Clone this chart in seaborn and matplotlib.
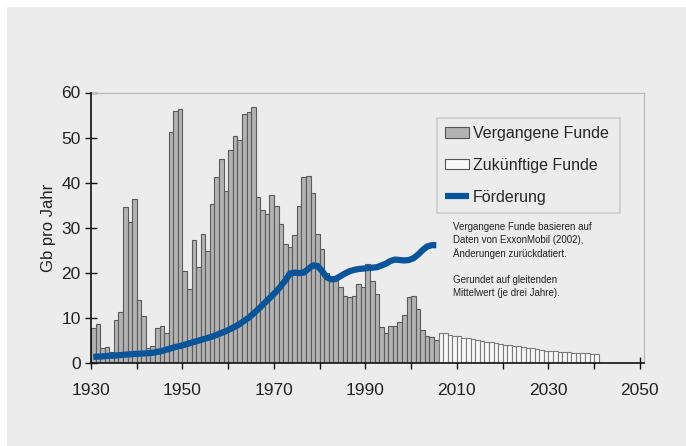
import numpy as np
import pandas as pd
import matplotlib.pyplot as plt
from matplotlib.patches import Rectangle, Patch
from matplotlib.lines import Line2D
from matplotlib.ticker import FixedLocator
import seaborn as sns

# Past discoveries (Gb per year), 1930-2005
past_years = list(range(1930, 2006))
past_finds = [7.6, 8.5, 3.2, 3.4, 2.4, 9.5, 11.2, 34.6, 31.3, 36.3,
              14.0, 10.3, 3.2, 3.6, 7.6, 8.1, 6.5, 51.2, 55.9, 56.4,
              20.4, 16.3, 27.3, 21.3, 28.5, 24.9, 35.2, 41.2, 45.2, 38.1,
              47.2, 50.3, 49.4, 55.3, 55.6, 56.7, 36.9, 33.9, 33.0, 37.2,
              34.9, 30.7, 26.3, 25.6, 28.3, 34.8, 41.2, 41.5, 37.6, 28.5,
              25.2, 19.9, 18.5, 19.3, 16.9, 14.8, 14.7, 14.8, 17.4, 16.9,
              21.9, 18.1, 15.2, 8.0, 6.7, 8.2, 8.2, 9.0, 10.7, 14.7,
              14.9, 11.9, 7.3, 6.0, 5.6, 5.0]

# Future discoveries (Gb per year), 2006-2040
future_years = list(range(2006, 2041))
future_finds = [6.7, 6.5, 6.1, 5.9, 5.9, 5.5, 5.4, 5.2, 5.0, 4.9,
                4.7, 4.5, 4.3, 4.1, 4.0, 3.9, 3.7, 3.6, 3.4, 3.3,
                3.2, 3.0, 2.9, 2.7, 2.7, 2.6, 2.4, 2.3, 2.3, 2.2,
                2.1, 2.1, 2.1, 2.0, 1.9]

# Production (Gb per year), 1930-2005
prod_years = list(range(1930, 2006))
production = [1.3, 1.35, 1.4, 1.5, 1.55, 1.6, 1.7, 1.8, 1.85, 1.95,
              2.0, 2.05, 2.1, 2.2, 2.4, 2.6, 2.9, 3.2, 3.5, 3.7,
              4.0, 4.3, 4.6, 4.9, 5.2, 5.5, 5.8, 6.2, 6.6, 7.0,
              7.5, 8.0, 8.6, 9.3, 10.0, 10.9, 11.8, 12.8, 13.8, 14.8,
              15.8, 17.0, 18.3, 19.8, 20.0, 19.9, 20.0, 20.8, 21.6, 21.5,
              20.4, 19.0, 18.5, 18.6, 19.2, 19.8, 20.3, 20.6, 20.8, 20.9,
              21.0, 21.1, 21.2, 21.6, 22.0, 22.6, 22.9, 22.8, 22.7, 22.8,
              23.2, 24.0, 25.0, 25.8, 26.1, 26.1]

x_ticks = [1930, 1950, 1970, 1990, 2010, 2030, 2050]
x_minor = [1940, 1960, 1980, 2000, 2020, 2040]
y_ticks = [0, 10, 20, 30, 40, 50, 60]

past_df = pd.DataFrame({"Jahr": np.array(past_years) + 0.5, "Funde": past_finds})
future_df = pd.DataFrame({"Jahr": np.array(future_years) + 0.5, "Funde": future_finds})
prod_df = pd.DataFrame({"Jahr": np.array(prod_years) + 0.5, "Foerderung": production})

BG = "#ececec"
BLUE = "#06559a"

sns.set_style("ticks")
plt.rcParams['font.family'] = ['Liberation Sans', 'DejaVu Sans']

fig = plt.figure(figsize=(6.86, 4.46), dpi=100)
fig.patch.set_facecolor("white")
fig.patches.append(Rectangle((7 / 686, 0), 1, 1 - 7 / 446, transform=fig.transFigure,
                             facecolor=BG, edgecolor="none", zorder=-10))
ax = fig.add_axes([91 / 686, (446 - 362.7) / 446, 553 / 686, 270.2 / 446])
ax.set_facecolor(BG)

sns.barplot(data=past_df, x="Jahr", y="Funde", native_scale=True, width=1,
            color="#b2b2b2", edgecolor="#5a5a5a", linewidth=0.8, saturation=1,
            errorbar=None, ax=ax, zorder=2)
sns.barplot(data=future_df, x="Jahr", y="Funde", native_scale=True, width=1,
            color="#f8f8f8", edgecolor="#7a7a7a", linewidth=0.8, saturation=1,
            errorbar=None, ax=ax, zorder=2)
sns.lineplot(data=prod_df, x="Jahr", y="Foerderung", color=BLUE, linewidth=4.5,
             solid_capstyle="butt", ax=ax, zorder=3)

ax.set_xlim(1930, 2050.9)
ax.set_ylim(0, 60)
ax.xaxis.set_major_locator(FixedLocator(x_ticks))
ax.set_xticklabels([str(t) for t in x_ticks])
ax.xaxis.set_minor_locator(FixedLocator(x_minor))
ax.yaxis.set_major_locator(FixedLocator(y_ticks))
ax.set_yticklabels([str(t) for t in y_ticks])
ax.tick_params(axis="both", which="both", direction="inout", length=9, width=1,
               color="#111111", labelsize=12.5, labelcolor="#222222")
ax.tick_params(axis="x", which="both", pad=10)
ax.tick_params(axis="y", pad=3)

for s in ["top", "right"]:
    ax.spines[s].set_color("#bdbdbd")
    ax.spines[s].set_linewidth(1)
for s in ["left", "bottom"]:
    ax.spines[s].set_color("#111111")
    ax.spines[s].set_linewidth(1.2)
    ax.spines[s].set_zorder(4)

ax.set_xlabel("")
ax.set_ylabel("Gb pro Jahr", fontsize=12, color="#222222", labelpad=4)

handles = [Patch(facecolor="#b2b2b2", edgecolor="#555555", linewidth=0.8),
           Patch(facecolor="#f8f8f8", edgecolor="#555555", linewidth=0.8),
           Line2D([], [], color=BLUE, linewidth=4.5, solid_capstyle="butt")]
labels = ["Vergangene Funde", "Zukünftige Funde", "Förderung"]
leg = fig.legend(handles, labels, loc="upper left",
                 bbox_to_anchor=(437 / 686, 1 - 211 / 446, 183 / 686, 93 / 446),
                 mode="expand", borderaxespad=0, fontsize=11.5, frameon=True,
                 fancybox=False, handlelength=1.5, handleheight=0.65,
                 handletextpad=0.25, labelspacing=1.05, borderpad=0.5)
leg.get_frame().set_facecolor(BG)
leg.get_frame().set_edgecolor("#c4c4c4")
leg.get_frame().set_linewidth(1.2)

note = ("Vergangene Funde basieren auf\n"
        "Daten von ExxonMobil (2002),\n"
        "Änderungen zurückdatiert.\n"
        "\n"
        "Gerundet auf gleitenden\n"
        "Mittelwert (je drei Jahre).")
fig.text(453 / 686, 1 - 222 / 446, note, fontsize=7, color="#222222",
         va="top", ha="left", linespacing=1.38)

plt.savefig("out.png", dpi=100, facecolor=fig.get_facecolor())
